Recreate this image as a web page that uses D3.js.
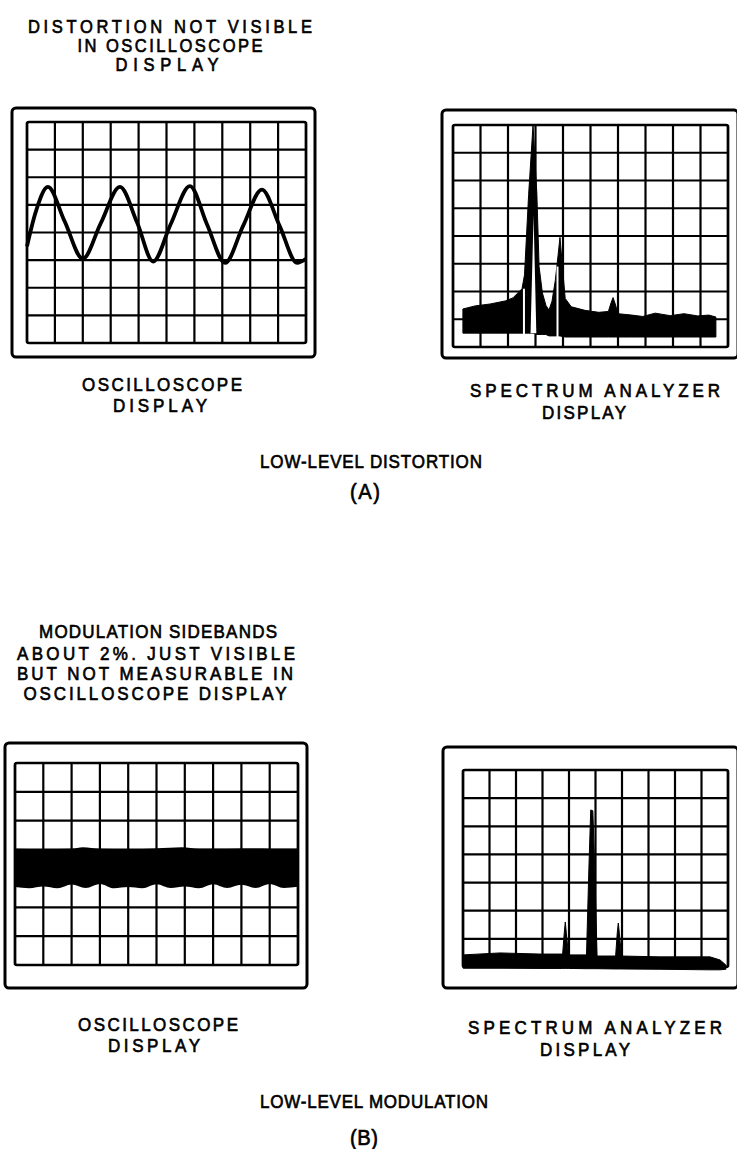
<!DOCTYPE html>
<html>
<head>
<meta charset="utf-8">
<script src="https://d3js.org/d3.v7.min.js"></script>
<style>
  body { margin: 0; background: #fff; }
  text { font-family: "Liberation Sans", Arial, sans-serif; fill: #000; stroke: #000; stroke-width: 0.65; }
</style>
</head>
<body>
<svg id="fig" width="737" height="1149"></svg>
<script>
// ---- data (grid divisions: x 0..10, y 0..rows) ----
// oscilloscope trace, panel A (x div, y div)
const scopeTraceA = [[0,3.5],[0.3,4.7],[0.75,5.65],[1.35,4.4],[2.0,3.05],[2.65,4.35],[3.33,5.65],[3.95,4.35],
  [4.52,2.95],[5.15,4.3],[5.84,5.68],[6.45,4.3],[7.1,2.9],[7.75,4.25],[8.42,5.55],[9.05,4.25],[9.68,2.9],[10,3.05]];

// spectrum panel A: [x div, top div, floor div]
const spectrumA = [[0.36,1.37,0.5],[0.8,1.48,0.5],[1.35,1.55,0.5],[1.9,1.66,0.5],[2.18,1.77,0.5],[2.36,1.95,0.5],
  [2.51,2.1,0.5],[2.6,2.6,0.5],[2.75,5.5,0.5],[2.91,8.0,0.5],[3.05,5.5,0.45],[3.13,2.9,0.45],[3.25,1.95,0.45],
  [3.38,1.5,0.45],[3.49,1.33,0.4],[3.6,1.65,0.4],[3.72,2.4,0.4],[3.82,3.3,0.4],[3.89,3.95,0.4],[3.98,2.9,0.38],
  [4.08,1.75,0.36],[4.3,1.45,0.36],[4.8,1.32,0.36],[5.3,1.25,0.36],[5.65,1.28,0.36],[5.75,1.6,0.36],[5.82,1.78,0.36],
  [5.9,1.55,0.36],[6.0,1.2,0.36],[6.5,1.15,0.36],[6.9,1.1,0.36],[7.35,1.22,0.36],[7.9,1.13,0.36],[8.4,1.2,0.36],
  [8.9,1.12,0.36],[9.3,1.15,0.36],[9.56,1.08,0.36]];
// white core inside the main peak and the two white slits
const peakCoreA = [[2.82,0.5],[2.93,4.75],[3.03,0.5]];
const slitsA = [[[2.58,0.45],[2.58,2.1]], [[3.8,0.3],[3.8,2.9]]];

// oscilloscope band, panel B (envelope edges)
const bandTopB = [[0,4.03],[1,4.02],[2,4.03],[2.4,4.08],[3,4.03],[4,4.02],[5,4.04],[5.9,4.08],[6.5,4.03],[7,4.03],[8,4.04],[9,4.03],[10,4.03]];
const bandBottomB = [[0,2.70],[0.5,2.66],[1,2.72],[1.5,2.66],[2,2.79],[2.5,2.67],[3,2.81],[3.5,2.66],[4,2.7],[4.5,2.66],
  [5,2.8],[5.5,2.67],[6,2.72],[6.5,2.66],[7,2.8],[7.5,2.67],[8,2.78],[8.5,2.67],[9,2.81],[9.5,2.67],[10,2.71]];

// spectrum panel B: [x div, top div, floor div]
const spectrumB = [[0,0.43,-0.04],[1.4,0.5,-0.04],[2.9,0.46,-0.05],[3.76,0.46,-0.05],[3.82,1.2,-0.05],[3.86,1.6,-0.05],
  [3.9,1.2,-0.05],[3.98,0.43,-0.05],[4.66,0.43,-0.06],[4.75,3.5,-0.06],[4.82,5.58,-0.06],[4.9,5.55,-0.06],[4.97,3.5,-0.06],
  [5.06,0.39,-0.06],[5.76,0.39,-0.07],[5.82,1.2,-0.07],[5.86,1.56,-0.07],[5.9,1.2,-0.07],[5.98,0.39,-0.07],
  [7.43,0.36,-0.08],[9.32,0.36,-0.1],[9.7,0.25,-0.1],[9.92,0.07,-0.08]];

// labels
const labelText = ["DISTORTION NOT VISIBLE","IN OSCILLOSCOPE","DISPLAY",
  "OSCILLOSCOPE","DISPLAY","SPECTRUM ANALYZER","DISPLAY","LOW-LEVEL DISTORTION","(A)",
  "MODULATION SIDEBANDS","ABOUT 2%. JUST VISIBLE","BUT NOT MEASURABLE IN","OSCILLOSCOPE DISPLAY",
  "OSCILLOSCOPE","DISPLAY","SPECTRUM ANALYZER","DISPLAY","LOW-LEVEL MODULATION","(B)"];

// ---- layout ----
const labelPos = [[170,33,284],[170,52,185],[167,71,103],
  [162,391,160],[160,412,94],[595,397,250],[584,419,84],[371,468,222],[365,499,30],
  [158,638,238],[156,660,278],[155,680,276],[155,700,263],
  [158,1031,160],[154,1052,92],[595,1034,254],[585,1056,90],[374,1108,228],[364,1145,28]];
const squeeze = 0.92;

const svg = d3.select("#fig");
svg.append("rect").attr("width",737).attr("height",1149).attr("fill","#fff");

function panel(frame, grid, rows) {
  const g = svg.append("g");
  g.append("rect")
    .attr("x",frame[0]).attr("y",frame[1])
    .attr("width",frame[2]-frame[0]).attr("height",frame[3]-frame[1])
    .attr("rx",4).attr("fill","none").attr("stroke","#000").attr("stroke-width",3);
  const x = d3.scaleLinear().domain([0,10]).range([grid[0],grid[2]]);
  const y = d3.scaleLinear().domain([0,rows]).range([grid[3],grid[1]]);
  g.selectAll("line.v").data(d3.range(0,11)).join("line").attr("class","v")
    .attr("x1",d=>x(d)).attr("x2",d=>x(d)).attr("y1",y(0)).attr("y2",y(rows))
    .attr("stroke","#000").attr("stroke-width",2.2);
  g.selectAll("line.h").data(d3.range(0,rows+1)).join("line").attr("class","h")
    .attr("x1",x(0)).attr("x2",x(10)).attr("y1",d=>y(d)).attr("y2",d=>y(d))
    .attr("stroke","#000").attr("stroke-width",2.2);
  g.append("rect").attr("x",x(0)).attr("y",y(rows)).attr("width",x(10)-x(0)).attr("height",y(0)-y(rows))
    .attr("rx",2).attr("fill","none").attr("stroke","#000").attr("stroke-width",2.6);
  return {g, x, y};
}

// A: oscilloscope
const pA = panel([12,108,315,357],[27,122,306,343],8);
pA.g.append("path").datum(scopeTraceA)
  .attr("d", d3.line().x(d=>pA.x(d[0])).y(d=>pA.y(d[1])).curve(d3.curveMonotoneX))
  .attr("fill","none").attr("stroke","#000").attr("stroke-width",3.8).attr("stroke-linejoin","round");

// A: spectrum
const sA = panel([442,110,738,358],[453,125,728,347],8);
sA.g.append("path").datum(spectrumA)
  .attr("d", d3.area().x(d=>sA.x(d[0])).y1(d=>sA.y(d[1])).y0(d=>sA.y(d[2])))
  .attr("fill","#000").attr("stroke","#000").attr("stroke-width",1);
sA.g.append("path").datum(peakCoreA)
  .attr("d", d3.line().x(d=>sA.x(d[0])).y(d=>sA.y(d[1])))
  .attr("fill","#fff");
sA.g.selectAll("path.slit").data(slitsA).join("path").attr("class","slit")
  .attr("d", d3.line().x(d=>sA.x(d[0])).y(d=>sA.y(d[1])))
  .attr("stroke","#fff").attr("stroke-width",2);

// B: oscilloscope
const pB = panel([5,743,307,988],[15,763,298,965],7);
const edge = d3.line().x(d=>pB.x(d[0])).y(d=>pB.y(d[1])).curve(d3.curveMonotoneX);
pB.g.append("path")
  .attr("d", edge(bandTopB) + "L" + edge(bandBottomB.slice().reverse()).slice(1) + "Z")
  .attr("fill","#000");

// B: spectrum
const sB = panel([443,747,738,988],[463,770,728,967],7);
sB.g.append("path").datum(spectrumB)
  .attr("d", d3.area().x(d=>sB.x(d[0])).y1(d=>sB.y(d[1])).y0(d=>sB.y(d[2])))
  .attr("fill","#000").attr("stroke","#000").attr("stroke-width",1).attr("stroke-linejoin","round");

// labels: narrow lettering, stretched to the reference widths
svg.selectAll("text.lab").data(labelText).join("text").attr("class","lab")
  .attr("transform",(d,i)=>`translate(${labelPos[i][0]},${labelPos[i][1]}) scale(${squeeze},1)`)
  .attr("text-anchor","middle")
  .attr("font-size",(d,i)=>d.startsWith("(") ? 22 : (i < 3 ? 18 : 18.5))
  .attr("textLength",(d,i)=>labelPos[i][2]/squeeze).attr("lengthAdjust","spacing")
  .text(d=>d);
</script>
</body>
</html>
